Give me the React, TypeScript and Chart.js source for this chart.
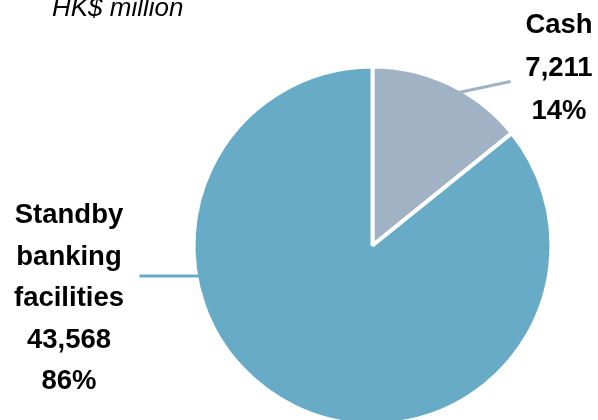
import React, { useEffect, useRef } from "react";
import { Chart, registerables } from "chart.js";

Chart.register(...registerables);

const categories = ["Cash", "Standby banking facilities"];
const labelLines = [["Cash"], ["Standby", "banking", "facilities"]];
const values = [7211, 43568];
const valueLabels = ["7,211", "43,568"];
const percentLabels = ["14%", "86%"];
const colors = ["#A0B2C4", "#68ABC6"];
const title = "HK$ million";

const labelPlugin = {
  id: "pieLabels",
  afterDraw(chart: any) {
    const ctx = chart.ctx;
    const meta = chart.getDatasetMeta(0);
    const arc = meta.data[0];
    if (!arc) return;
    const cx = arc.x;
    const cy = arc.y;
    const r = arc.outerRadius - 2;
    ctx.save();
    // title
    ctx.font = "italic 26px 'Liberation Sans', Arial, sans-serif";
    ctx.fillStyle = "#000";
    ctx.textAlign = "left";
    ctx.textBaseline = "alphabetic";
    ctx.fillText(title, cx - 320.5, cy - 230);

    // leader lines
    ctx.lineWidth = 3;
    // cash
    const a0 = (29.5 * Math.PI) / 180;
    const sx0 = cx + r * Math.sin(a0);
    const sy0 = cy - r * Math.cos(a0);
    ctx.strokeStyle = colors[0];
    ctx.beginPath();
    ctx.moveTo(sx0 - 1, sy0 + 1);
    ctx.lineTo(cx + 138, cy - 164);
    ctx.stroke();
    // standby
    const ly = cy + 30.5;
    const lx = cx - Math.sqrt(r * r - 30.5 * 30.5);
    ctx.strokeStyle = colors[1];
    ctx.beginPath();
    ctx.moveTo(lx + 2, ly);
    ctx.lineTo(cx - 233, ly);
    ctx.stroke();

    // text labels
    ctx.font = "bold 27.5px 'Liberation Sans', Arial, sans-serif";
    ctx.fillStyle = "#000";
    ctx.textAlign = "center";
    const rightLines = [...labelLines[0], valueLabels[0], percentLabels[0]];
    rightLines.forEach((t, i) => {
      ctx.fillText(t, cx + 186.5, cy - 212.5 + i * 43);
    });
    const leftLines = [...labelLines[1], valueLabels[1], percentLabels[1]];
    leftLines.forEach((t, i) => {
      ctx.fillText(t, cx - 303.5, cy - 22.5 + i * 41.5);
    });
    ctx.restore();
  },
};

export default function App() {
  const ref = useRef<HTMLCanvasElement | null>(null);
  useEffect(() => {
    if (!ref.current) return;
    const chart = new Chart(ref.current, {
      type: "pie",
      data: {
        labels: categories,
        datasets: [
          {
            data: values,
            backgroundColor: colors,
            borderColor: "#ffffff",
            borderWidth: 4,
          },
        ],
      },
      options: {
        responsive: false,
        animation: false,
        layout: {
          padding: { left: 191.5, right: 44.5, top: 64.5, bottom: 13.5 },
        },
        plugins: {
          legend: { display: false },
          tooltip: { enabled: false },
          title: { display: false },
        },
      },
      plugins: [labelPlugin],
    });
    return () => chart.destroy();
  }, []);
  return (
    <div
      style={{
        position: "absolute",
        left: 0,
        top: 0,
        width: 598,
        height: 420,
        overflow: "hidden",
        background: "#fff",
      }}
    >
      <canvas ref={ref} width={598} height={440} style={{ display: "block" }} />
    </div>
  );
}
